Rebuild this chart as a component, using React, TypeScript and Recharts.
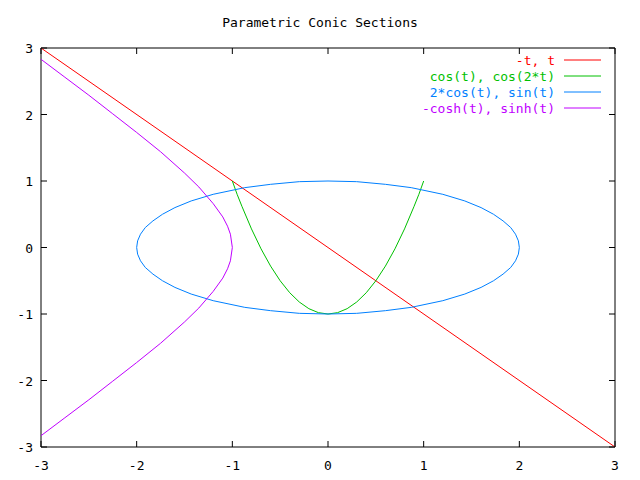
import React from "react";
import { LineChart, Line, XAxis, YAxis, ReferenceArea } from "recharts";

const xTicks = [-3, -2, -1, 0, 1, 2, 3];
const yTicks = [-3, -2, -1, 0, 1, 2, 3];

const lineData = [
  { x: -3, y: 3 },
  { x: 3, y: -3 },
];

const parabolaData = [
  { x: -1, y: 1 }, { x: -0.95, y: 0.8 }, { x: -0.9, y: 0.62 }, { x: -0.8, y: 0.28 },
  { x: -0.7, y: -0.02 }, { x: -0.6, y: -0.28 }, { x: -0.5, y: -0.5 }, { x: -0.4, y: -0.68 },
  { x: -0.3, y: -0.82 }, { x: -0.2, y: -0.92 }, { x: -0.1, y: -0.98 }, { x: 0, y: -1 },
  { x: 0.1, y: -0.98 }, { x: 0.2, y: -0.92 }, { x: 0.3, y: -0.82 }, { x: 0.4, y: -0.68 },
  { x: 0.5, y: -0.5 }, { x: 0.6, y: -0.28 }, { x: 0.7, y: -0.02 }, { x: 0.8, y: 0.28 },
  { x: 0.9, y: 0.62 }, { x: 0.95, y: 0.8 }, { x: 1, y: 1 },
];

const ellipseData = [
  { x: 2, y: 0 }, { x: 1.99, y: 0.1 }, { x: 1.96, y: 0.2 }, { x: 1.91, y: 0.3 },
  { x: 1.83, y: 0.4 }, { x: 1.73, y: 0.5 }, { x: 1.6, y: 0.6 }, { x: 1.43, y: 0.7 },
  { x: 1.2, y: 0.8 }, { x: 0.87, y: 0.9 }, { x: 0.6, y: 0.95 }, { x: 0.3, y: 0.99 },
  { x: 0, y: 1 }, { x: -0.3, y: 0.99 }, { x: -0.6, y: 0.95 }, { x: -0.87, y: 0.9 },
  { x: -1.2, y: 0.8 }, { x: -1.43, y: 0.7 }, { x: -1.6, y: 0.6 }, { x: -1.73, y: 0.5 },
  { x: -1.83, y: 0.4 }, { x: -1.91, y: 0.3 }, { x: -1.96, y: 0.2 }, { x: -1.99, y: 0.1 },
  { x: -2, y: 0 }, { x: -1.99, y: -0.1 }, { x: -1.96, y: -0.2 }, { x: -1.91, y: -0.3 },
  { x: -1.83, y: -0.4 }, { x: -1.73, y: -0.5 }, { x: -1.6, y: -0.6 }, { x: -1.43, y: -0.7 },
  { x: -1.2, y: -0.8 }, { x: -0.87, y: -0.9 }, { x: -0.6, y: -0.95 }, { x: -0.3, y: -0.99 },
  { x: 0, y: -1 }, { x: 0.3, y: -0.99 }, { x: 0.6, y: -0.95 }, { x: 0.87, y: -0.9 },
  { x: 1.2, y: -0.8 }, { x: 1.43, y: -0.7 }, { x: 1.6, y: -0.6 }, { x: 1.73, y: -0.5 },
  { x: 1.83, y: -0.4 }, { x: 1.91, y: -0.3 }, { x: 1.96, y: -0.2 }, { x: 1.99, y: -0.1 },
  { x: 2, y: 0 },
];

const hyperbolaData = [
  { x: -3, y: 2.83 }, { x: -2.75, y: 2.56 }, { x: -2.5, y: 2.29 }, { x: -2.25, y: 2.01 },
  { x: -2, y: 1.73 }, { x: -1.75, y: 1.44 }, { x: -1.5, y: 1.12 }, { x: -1.35, y: 0.91 },
  { x: -1.2, y: 0.66 }, { x: -1.1, y: 0.46 }, { x: -1.05, y: 0.32 }, { x: -1.02, y: 0.2 },
  { x: -1, y: 0 }, { x: -1.02, y: -0.2 }, { x: -1.05, y: -0.32 }, { x: -1.1, y: -0.46 },
  { x: -1.2, y: -0.66 }, { x: -1.35, y: -0.91 }, { x: -1.5, y: -1.12 }, { x: -1.75, y: -1.44 },
  { x: -2, y: -1.73 }, { x: -2.25, y: -2.01 }, { x: -2.5, y: -2.29 }, { x: -2.75, y: -2.56 },
  { x: -3, y: -2.83 },
];

const seriesNames = ["-t, t", "cos(t), cos(2*t)", "2*cos(t), sin(t)", "-cosh(t), sinh(t)"];
const seriesColors = ["#ff0000", "#00c000", "#0080ff", "#c000ff"];
const seriesData = [lineData, parabolaData, ellipseData, hyperbolaData];

const FONT = "'DejaVu Sans Mono', monospace";
const PLOT_TOP = 48;
const PLOT_BOTTOM = 447;
const PLOT_LEFT = 41;
const PLOT_RIGHT = 615;

const XTick = (props: any) => {
  const { x, payload } = props;
  return (
    <g>
      <line x1={x} x2={x} y1={PLOT_BOTTOM} y2={PLOT_BOTTOM - 6} stroke="#000" />
      <line x1={x} x2={x} y1={PLOT_TOP} y2={PLOT_TOP + 6} stroke="#000" />
      <text x={x} y={PLOT_BOTTOM + 23} textAnchor="middle" fontFamily={FONT} fontSize={13} fill="#000">
        {payload.value}
      </text>
    </g>
  );
};

const YTick = (props: any) => {
  const { y, payload } = props;
  return (
    <g>
      <line x1={PLOT_LEFT} x2={PLOT_LEFT + 6} y1={y} y2={y} stroke="#000" />
      <line x1={PLOT_RIGHT} x2={PLOT_RIGHT - 6} y1={y} y2={y} stroke="#000" />
      <text x={PLOT_LEFT - 8} y={y + 5} textAnchor="end" fontFamily={FONT} fontSize={13} fill="#000">
        {payload.value}
      </text>
    </g>
  );
};

export default function App() {
  return (
    <div style={{ position: "absolute", left: 0, top: 0, width: 640, height: 480, background: "#fff" }}>
      <div
        style={{
          position: "absolute",
          left: 0,
          top: 15,
          width: 640,
          textAlign: "center",
          fontFamily: FONT,
          fontSize: 13,
          color: "#000",
        }}
      >
        Parametric Conic Sections
      </div>
      <LineChart width={640} height={480} margin={{ top: PLOT_TOP, right: 640 - PLOT_RIGHT, bottom: 0, left: 0 }}>
        <XAxis
          dataKey="x"
          type="number"
          domain={[-3, 3]}
          ticks={xTicks}
          height={480 - PLOT_BOTTOM}
          axisLine={false}
          tickLine={false}
          tick={<XTick />}
          allowDataOverflow
        />
        <YAxis
          dataKey="y"
          type="number"
          domain={[-3, 3]}
          ticks={yTicks}
          width={PLOT_LEFT}
          axisLine={false}
          tickLine={false}
          tick={<YTick />}
          allowDataOverflow
        />
        <ReferenceArea x1={-3} x2={3} y1={-3} y2={3} fill="none" stroke="#000" strokeWidth={1} ifOverflow="visible" />
        {seriesData.map((d, i) => (
          <Line
            key={seriesNames[i]}
            data={d}
            dataKey="y"
            name={seriesNames[i]}
            type="linear"
            stroke={seriesColors[i]}
            strokeWidth={1}
            dot={false}
            isAnimationActive={false}
          />
        ))}
      </LineChart>
      <svg width={640} height={130} style={{ position: "absolute", left: 0, top: 0, pointerEvents: "none" }}>
        {seriesNames.map((n, i) => (
          <g key={n}>
            <text x={555} y={60 + i * 16 + 5} textAnchor="end" fontFamily={FONT} fontSize={13} fill={seriesColors[i]}>
              {n}
            </text>
            <line x1={564} x2={601} y1={60 + i * 16} y2={60 + i * 16} stroke={seriesColors[i]} />
          </g>
        ))}
      </svg>
    </div>
  );
}
